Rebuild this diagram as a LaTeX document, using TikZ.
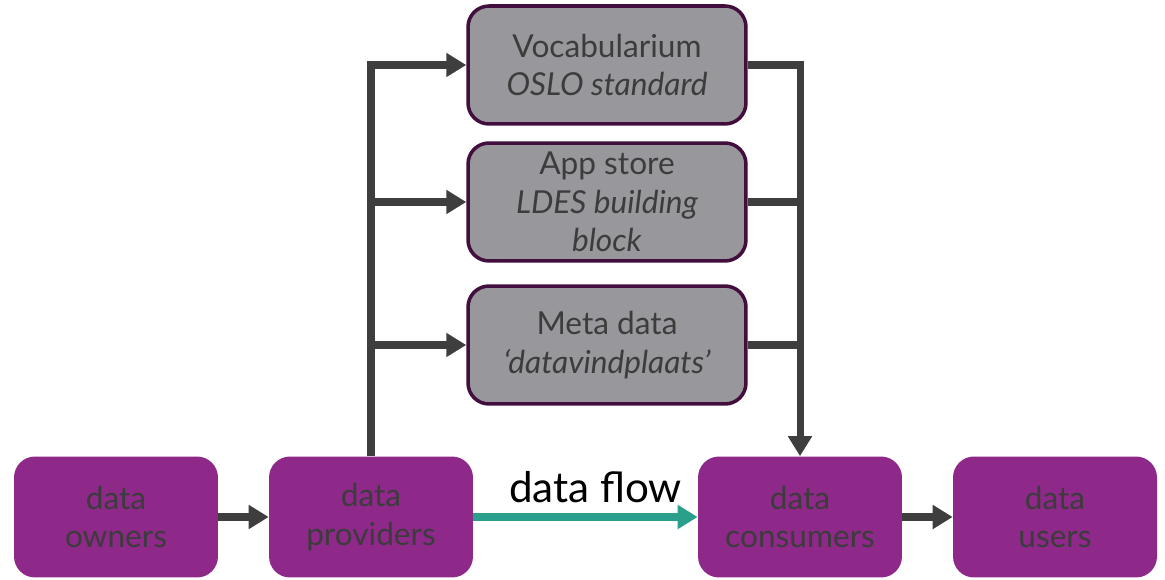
\documentclass[tikz,border=0pt]{standalone}
\usepackage{fontspec}
\setmainfont{Lato}
\usetikzlibrary{arrows.meta}

\definecolor{actor}{RGB}{142,40,137}
\definecolor{tool}{RGB}{151,151,156}
\definecolor{toolborder}{RGB}{65,14,62}
\definecolor{flowgray}{RGB}{62,62,62}
\definecolor{textgray}{RGB}{60,60,60}
\definecolor{flowteal}{RGB}{42,160,140}

\tikzset{
	actorbox/.style={rectangle, rounded corners=0.42cm, fill=actor, text=textgray,
		minimum width=4.08cm, minimum height=2.42cm, align=center,
		font=\fontsize{18}{22}\selectfont},
	toolbox/.style={rectangle, rounded corners=0.42cm, fill=tool, draw=toolborder,
		line width=2pt, text=textgray, minimum width=5.56cm, minimum height=2.36cm,
		align=center, font=\fontsize{18}{22}\selectfont},
	flow/.style={draw=flowgray, line width=4pt,
		-{Triangle[length=0.4cm, width=0.46cm]}},
	plain/.style={draw=flowgray, line width=4pt},
}

\begin{document}
\begin{tikzpicture}[x=0.02cm, y=-0.02cm]
	\useasboundingbox (0,0) rectangle (1165,580);

	% actors
	\node[actorbox] (owners) at (116,517) {data\\owners};
	\node[actorbox] (prov) at (371,517) {data\\providers};
	\node[actorbox] (cons) at (800,517) {data\\consumers};
	\node[actorbox] (users) at (1055,517) {data\\users};

	% building blocks
	\node[toolbox] (vocab) at (607,65) {Vocabularium\\\textit{OSLO standard}};
	\node[toolbox] (app) at (607,202) {App store\\\textit{LDES building}\\\textit{block}};
	\node[toolbox] (meta) at (607,345) {Meta data\\\textit{‘datavindplaats’}};

	% left side
	\draw[flow] (prov.north) |- (vocab.west);
	\draw[flow] (prov.north |- app.west) -- (app.west);
	\draw[flow] (prov.north |- meta.west) -- (meta.west);

	% right side
	\draw[flow] (vocab.east) -| (cons.north);
	\draw[plain] (app.east) -- (app.east -| cons.north);
	\draw[plain] (meta.east) -- (meta.east -| cons.north);

	% main chain
	\draw[flow] (owners) -- (prov);
	\draw[flow] (cons) -- (users);
	\draw[flow, draw=flowteal, -{Triangle[length=0.4cm, width=0.46cm, fill=flowteal]}]
		(prov) -- node[above, text=black, font=\fontsize{24}{27}\selectfont,
		xshift=0.2cm, yshift=0.1cm] {data flow} (cons);
\end{tikzpicture}
\end{document}
